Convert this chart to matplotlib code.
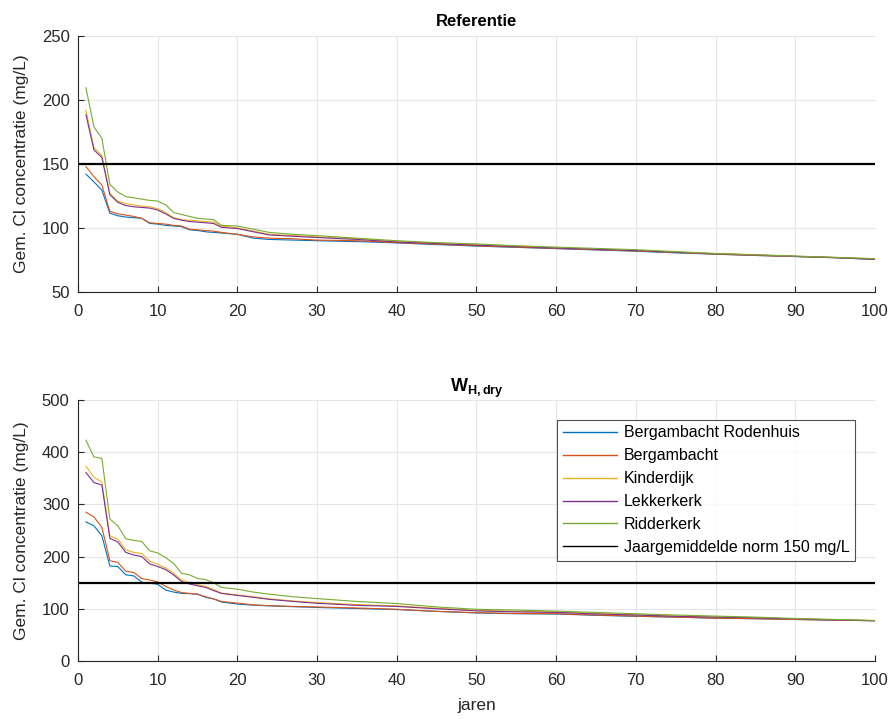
import matplotlib
matplotlib.use("Agg")
import matplotlib.pyplot as plt

plt.rcParams['font.family'] = ['Liberation Sans', 'DejaVu Sans']
plt.rcParams['mathtext.fontset'] = 'custom'
plt.rcParams['mathtext.rm'] = 'Liberation Sans'
plt.rcParams['mathtext.bf'] = 'Liberation Sans:bold'

jaren = [1, 2, 3, 4, 5, 6, 7, 8, 9, 10, 11, 12, 13, 14, 15, 16, 17, 18, 20, 22, 24, 27, 30,
         35, 40, 45, 50, 55, 60, 65, 70, 75, 80, 85, 90, 95, 100]

stations = ['Bergambacht Rodenhuis', 'Bergambacht', 'Kinderdijk', 'Lekkerkerk', 'Ridderkerk']
norm = 150
norm_label = 'Jaargemiddelde norm 150 mg/L'

# Referentie
ref_rodenhuis = [142, 136, 129.5, 111.5, 109.5, 108.5, 108, 107.5, 103.5, 103, 102, 101.5, 101, 98.5, 98, 97,
                 96.5, 96, 95, 92, 91, 90.5, 90, 89.3, 88.3, 87, 85.8, 84.8, 83.8, 82.8, 81.8, 80.5, 79.5,
                 78.5, 77.6, 76.7, 75.4]
ref_bergambacht = [148, 140, 133.5, 113, 111, 110, 109, 107.5, 104, 103.5, 103, 102, 101.5, 99, 98.5, 98,
                   97.5, 96.5, 95, 93, 92, 91.5, 90.5, 90, 88.5, 87.3, 86, 85, 84, 83, 82, 80.8, 79.5,
                   78.5, 77.7, 76.8, 75.5]
ref_kinderdijk = [192, 163, 156.5, 127, 121, 119, 118, 117, 116.5, 115, 112, 108, 106.5, 106, 105.5, 105,
                  104.5, 101.5, 100, 97.5, 95, 94, 93, 91.5, 89.5, 88, 87, 86, 84.5, 83.5, 82.5, 81, 80,
                  79, 77.8, 77, 75.8]
ref_lekkerkerk = [188.5, 161, 155, 126, 120, 117.5, 116.5, 116, 115.5, 114, 111, 107.5, 106, 105, 104.5,
                  104, 103.5, 100.5, 99.5, 97, 94.5, 93.5, 92.5, 91, 89, 87.8, 86.5, 85.5, 84.3, 83.3,
                  82.3, 81, 79.8, 78.8, 77.8, 76.8, 75.5]
ref_ridderkerk = [209.5, 179, 170, 134, 128, 124.5, 123.5, 122.5, 121.5, 121, 118, 112, 110.5, 109, 107.5,
                  107, 106.5, 102, 101.5, 99, 96.5, 95, 94, 92, 90, 88.5, 87.5, 86, 85, 84, 83, 81.5, 80,
                  79, 78, 77, 76]

# W_H,dry
dry_rodenhuis = [266.5, 259, 240, 182, 181, 165, 163, 151, 149, 147, 136, 132, 129.5, 129, 128, 122, 119,
                 113, 109, 107, 105.5, 104, 102.5, 100.5, 98.5, 95, 92, 90.5, 90, 87.5, 85.5, 84, 82, 81,
                 79.5, 78.3, 77]
dry_bergambacht = [285, 276, 256, 192, 189, 172, 169.5, 158, 155, 151.5, 143, 136, 131, 129.5, 128, 123,
                   119, 114, 111, 107.5, 106, 104.5, 103.5, 101.5, 99, 95, 92.5, 91, 90.5, 88, 86, 84, 82,
                   81, 79.5, 78.5, 77]
dry_kinderdijk = [373, 352, 343, 240, 233.5, 213, 208, 206, 191, 185.5, 178, 168, 155, 150, 146, 143, 137,
                  130, 126.6, 123, 119, 115, 112, 108, 105.5, 101, 97, 95, 94, 91, 88.5, 86, 84.5, 83,
                  80.5, 79, 77.5]
dry_lekkerkerk = [361, 342, 337, 235, 228, 208, 203, 200, 186, 181, 175, 165, 152, 147.5, 144, 141, 135,
                  129.5, 125.5, 122, 118, 114, 110.5, 106.5, 104.5, 100, 96, 94, 93, 90, 88, 85.5, 84,
                  82.5, 80.5, 78.5, 77.3]
dry_ridderkerk = [423, 391, 388, 272, 259, 234, 231, 229, 211, 207, 198, 187, 168, 165, 158, 156, 150, 141,
                  137.5, 132, 128, 123, 119.5, 114, 110, 103.5, 99, 97.5, 95.5, 93, 90.5, 88, 86, 84,
                  81.5, 79.5, 77.5]

kleuren = ['#0072BD', '#D95319', '#EDB120', '#7E2F8E', '#77AC30']
tick_kleur = '#262626'
grid_kleur = '#e6e6e6'

fig = plt.figure(figsize=(8.9, 7.19), dpi=100)
ax1 = fig.add_axes([0.0876, 0.594, 0.8955, 0.356])
ax2 = fig.add_axes([0.0876, 0.0807, 0.8955, 0.363])


def opmaak(ax, ylim, yticks):
    ax.set_xlim(0, 100)
    ax.set_ylim(*ylim)
    ax.set_xticks(range(0, 101, 10))
    ax.set_yticks(yticks)
    ax.grid(True, color=grid_kleur, linewidth=0.8)
    ax.set_axisbelow(True)
    ax.spines['top'].set_visible(False)
    ax.spines['right'].set_visible(False)
    for s in ['left', 'bottom']:
        ax.spines[s].set_color(tick_kleur)
        ax.spines[s].set_linewidth(0.8)
    ax.tick_params(direction='in', length=4, width=0.8, colors=tick_kleur, labelsize=12,
                   labelcolor=tick_kleur, pad=6)
    ax.tick_params(axis='x', pad=9)
    ax.set_ylabel('Gem. Cl concentratie (mg/L)', fontsize=12.5, color=tick_kleur, labelpad=9)


reeksen1 = [ref_rodenhuis, ref_bergambacht, ref_kinderdijk, ref_lekkerkerk, ref_ridderkerk]
for naam, y, c in zip(stations, reeksen1, kleuren):
    ax1.plot(jaren, y, color=c, linewidth=0.8, label=naam)
ax1.axhline(norm, color='black', linewidth=1.6, label=norm_label)
opmaak(ax1, (50, 250), range(50, 251, 50))
ax1.set_title('Referentie', fontsize=12, fontweight='bold', pad=7)

reeksen2 = [dry_rodenhuis, dry_bergambacht, dry_kinderdijk, dry_lekkerkerk, dry_ridderkerk]
for naam, y, c in zip(stations, reeksen2, kleuren):
    ax2.plot(jaren, y, color=c, linewidth=0.8, label=naam)
ax2.axhline(norm, color='black', linewidth=1.6, label=norm_label)
opmaak(ax2, (0, 500), range(0, 501, 100))
ax2.set_title(r'$\mathbf{W}_{\mathbf{H,dry}}$', fontsize=13, pad=6)
ax2.set_xlabel('jaren', fontsize=12.5, color=tick_kleur, labelpad=7)

leg = ax2.legend(loc='upper right', bbox_to_anchor=(0.9755, 0.925), fontsize=11.5, frameon=True,
                 fancybox=False, handlelength=3.4, handletextpad=0.45, borderpad=0.35,
                 labelspacing=0.5, borderaxespad=0)
leg.get_frame().set_edgecolor(tick_kleur)
leg.get_frame().set_linewidth(0.8)
for h in leg.get_lines():
    h.set_linewidth(1.0)

fig.savefig('out.png', dpi=100)
